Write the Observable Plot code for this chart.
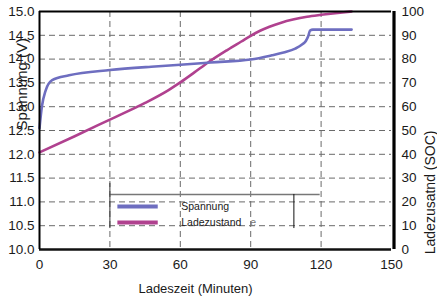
<!DOCTYPE html>
<html>
<head>
<meta charset="utf-8">
<script src="https://cdn.jsdelivr.net/npm/d3@7"></script>
<script src="https://cdn.jsdelivr.net/npm/@observablehq/plot@0.6"></script>
<style>
  html, body { margin: 0; padding: 0; background: #fff; }
  #chart svg { display: block; }
</style>
</head>
<body>
<div id="chart"></div>
<script>
// Time (minutes) and voltage (V) for "Spannung"
const voltTime = [0, 1, 2.6, 5.4, 12.6, 30, 47.6, 60, 73, 90, 99, 104, 109, 112, 113.5, 114.5, 115.3, 116.5, 133];
const voltage  = [12.55, 13.0, 13.34, 13.56, 13.66, 13.77, 13.84, 13.88, 13.93, 13.99, 14.08, 14.14, 14.22, 14.31, 14.38, 14.48, 14.6, 14.62, 14.62];

// Time (minutes) and state of charge (%) for "Ladezustand"
const socTime = [0, 15, 30, 45, 55, 60, 66, 72, 80, 86, 90, 94, 98, 103, 108, 114, 120, 126, 133];
const soc     = [40.8, 47.6, 54.6, 61.6, 67, 70.2, 74.4, 78.7, 83.8, 87.4, 89.8, 91.9, 93.6, 95.3, 96.6, 97.8, 98.6, 99.3, 100];

// Axis ticks
const xTicks = [0, 30, 60, 90, 120, 150];
const yTicks = [10, 10.5, 11, 11.5, 12, 12.5, 13, 13.5, 14, 14.5, 15];
const xGrid = [30, 60, 90, 120];

const seriesNames = ["Spannung", "Ladezustand"];
const colors = ["#6e6ec0", "#b0418f"];

// SOC (0..100) mapped onto the voltage axis (10..15)
const socToV = s => 10 + s / 20;
const vToSoc = v => Math.round((v - 10) * 20);

const voltData = voltTime.map((t, i) => ({t, v: voltage[i]}));
const socData = socTime.map((t, i) => ({t, v: socToV(soc[i])}));

const font = "Liberation Sans, Arial, sans-serif";

// Legend (in data coordinates)
const legY = [10.903, 10.567];
const legendRows = seriesNames.map((name, i) => ({name, y: legY[i], color: colors[i]}));

const chart = Plot.plot({
  width: 437,
  height: 300,
  marginLeft: 39,
  marginRight: 46,
  marginTop: 11,
  marginBottom: 51,
  style: {fontFamily: font, fontSize: "13px", color: "#1a1a1a", background: "#fff"},
  x: {domain: [0, 150]},
  y: {domain: [10, 15]},
  marks: [
    Plot.gridY(yTicks.slice(1, -1), {stroke: "#6a6a6a", strokeOpacity: 1, strokeDasharray: "6,4", strokeWidth: 1}),
    Plot.gridX(xGrid, {stroke: "#6a6a6a", strokeOpacity: 1, strokeDasharray: "6,4", strokeWidth: 1}),
    Plot.axisY(yTicks, {anchor: "left", tickSize: 0, tickPadding: 5, tickFormat: d3.format(".1f"), label: null, fontSize: 13.5}),
    Plot.axisY(yTicks, {anchor: "right", tickSize: 0, tickPadding: 10, tickFormat: vToSoc, label: null, fontSize: 13.5}),
    Plot.axisX(xTicks, {anchor: "bottom", tickSize: 0, tickPadding: 10, label: null, fontSize: 13.5}),
    // axis titles
    Plot.text(["Spannung (V)"], {frameAnchor: "left", dx: -17, rotate: -90, text: d => d, fontSize: 15, fill: "#1a1a1a"}),
    Plot.text(["Ladezusatnd (SOC)"], {frameAnchor: "right", dx: 39, rotate: -90, text: d => d, fontSize: 14, fill: "#1a1a1a"}),
    Plot.text(["Ladeszeit (Minuten)"], {frameAnchor: "bottom", dx: -20, dy: 43, text: d => d, fontSize: 13, fill: "#1a1a1a"}),
    // legend box
    Plot.ruleY([11.156], {x1: 30, x2: 119.6, stroke: "#777", strokeWidth: 1.5}),
    Plot.ruleX([30], {y1: 11.39, y2: 10.44, stroke: "#333", strokeWidth: 1}),
    Plot.ruleX([108.4], {y1: 11.156, y2: 10.44, stroke: "#111", strokeWidth: 1}),
    Plot.ruleY(legendRows, {y: "y", x1: 33.4, x2: 50.6, stroke: "color", strokeWidth: 4}),
    Plot.text(legendRows, {y: "y", x: 60.4, text: "name", textAnchor: "start", fontSize: 10.5, fill: "#1a1a1a"}),
    Plot.text(["e"], {x: 89.8, y: 10.567, text: d => d, textAnchor: "start", fontSize: 10.5, fill: "#777"}),
    // data lines
    Plot.line(socData, {x: "t", y: "v", stroke: colors[1], strokeWidth: 2.6, curve: "monotone-x"}),
    Plot.line(voltData, {x: "t", y: "v", stroke: colors[0], strokeWidth: 2.6, curve: "monotone-x"}),
    // frame
    Plot.ruleY([15], {stroke: "#000", strokeWidth: 2.2}),
    Plot.ruleY([10], {stroke: "#111", strokeWidth: 2.6}),
    Plot.ruleX([0], {stroke: "#000", strokeWidth: 2}),
    Plot.ruleX([150], {stroke: "#000", strokeWidth: 3.2, dx: 2.5})
  ]
});

document.getElementById("chart").appendChild(chart);
</script>
</body>
</html>
